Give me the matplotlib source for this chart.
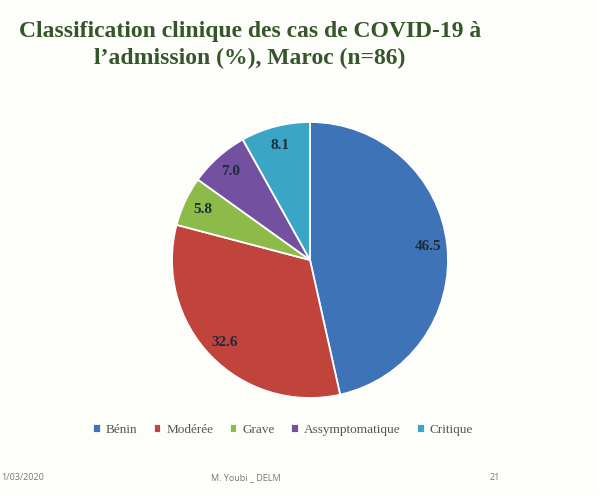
import matplotlib.pyplot as plt

categories = ["Bénin", "Modérée", "Grave", "Assymptomatique", "Critique"]
values = [46.5, 32.6, 5.8, 7.0, 8.1]
colors = ["#3f73b8", "#c0433c", "#8dbb4a", "#7451a0", "#3aa5c4"]

title = "Classification clinique des cas de COVID-19 à\nl’admission (%), Maroc (n=86)"

bg = "#fdfdf9"
fig = plt.figure(figsize=(5.99, 4.95), dpi=100, facecolor=bg)

fig.text(250 / 599, 1 - 45 / 495, title, ha="center", va="center", fontsize=17,
         fontweight="bold", color="#34562a", family="Liberation Serif",
         linespacing=1.4)

# pie centre ~ (310, 260), radius ~ 138 px
ax = fig.add_axes([(310 - 140) / 599, 1 - (260 + 140) / 495, 280 / 599, 280 / 495])
ax.set_facecolor(bg)
wedges, texts = ax.pie(values, colors=colors, startangle=90, counterclock=False,
                       labels=["{:.1f}".format(v) for v in values],
                       labeldistance=0.86,
                       wedgeprops=dict(edgecolor="white", linewidth=1.3),
                       textprops=dict(fontsize=11, fontweight="bold",
                                      color="#1e2b3a", family="Liberation Serif"))
for t in texts:
    t.set_ha("center")
    t.set_va("center")
ax.set_xlim(-140 / 138, 140 / 138)
ax.set_ylim(-140 / 138, 140 / 138)
ax.set_aspect("equal")

fig.legend(wedges, categories, loc="center", bbox_to_anchor=(283 / 599, 1 - 430 / 495),
           ncol=5, frameon=False, handlelength=0.6, handleheight=0.6,
           handletextpad=0.4, columnspacing=1.2,
           prop=dict(family="Liberation Serif", size=9.5))
for txt in fig.legends[0].get_texts():
    txt.set_color("#555555")

fig.text(1 / 599, 1 - 478 / 495, "1/03/2020", ha="left", va="center",
         fontsize=6.5, color="#777777", family="Open Sans")
fig.text(246 / 599, 1 - 478 / 495, "M. Youbi _ DELM", ha="center", va="center",
         fontsize=6.5, color="#777777", family="Open Sans")
fig.text(495 / 599, 1 - 478 / 495, "21", ha="center", va="center",
         fontsize=6.5, color="#777777", family="Open Sans")

fig.savefig("out.png", dpi=100, facecolor=bg)
